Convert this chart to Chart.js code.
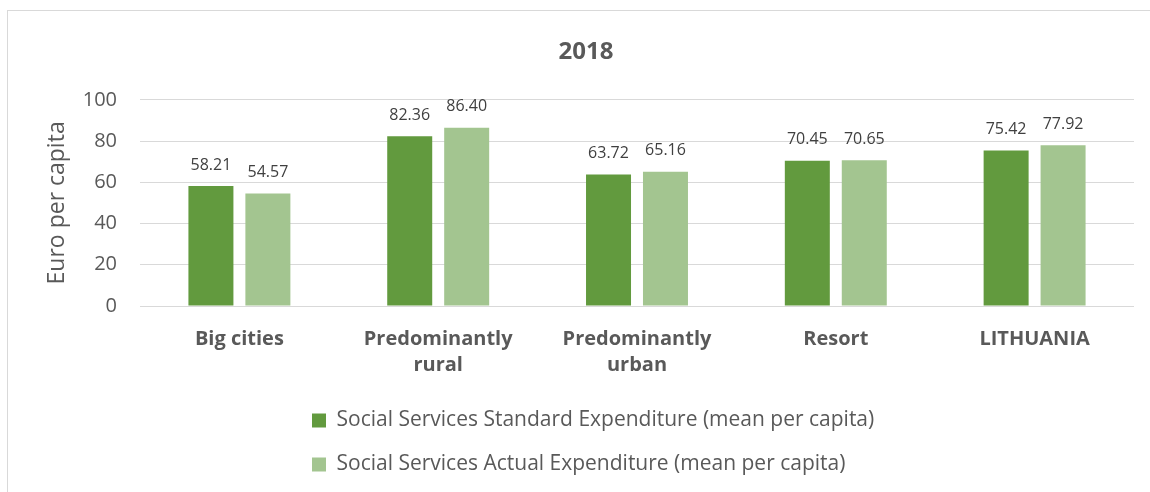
<!DOCTYPE html>
<html>
<head>
<meta charset="utf-8">
<script src="https://cdn.jsdelivr.net/npm/chart.js@4"></script>
<style>
  html, body { margin: 0; padding: 0; background: #fff; overflow: hidden; }
  #wrap {
    position: absolute;
    left: 7px;
    top: 10px;
    width: 1150px;
    height: 500px;
    border: 1px solid #d9d9d9;
  }
</style>
</head>
<body>
<div id="wrap"><canvas id="expChart"></canvas></div>
<script>
// 数据
const categories = ['Big cities', ['Predominantly', 'rural'], ['Predominantly', 'urban'], 'Resort', 'LITHUANIA'];
const standardExp = [58.21, 82.36, 63.72, 70.45, 75.42];
const actualExp = [54.57, 86.40, 65.16, 70.65, 77.92];
const yTicks = [0, 20, 40, 60, 80, 100];

const textColor = '#595959';

// 柱顶数值标签
const barValueLabels = {
    id: 'barValueLabels',
    afterDatasetsDraw(chart) {
        const ctx = chart.ctx;
        ctx.save();
        ctx.font = '16px "Open Sans"';
        ctx.fillStyle = '#404040';
        ctx.textAlign = 'center';
        ctx.textBaseline = 'middle';
        chart.data.datasets.forEach((ds, i) => {
            chart.getDatasetMeta(i).data.forEach((bar, j) => {
                ctx.fillText(ds.data[j].toFixed(2), bar.x, bar.y - 21);
            });
        });
        ctx.restore();
    }
};

// 图例两行左对齐，整体右移
const legendShift = {
    id: 'legendShift',
    afterLayout(chart) {
        if (chart.legend) chart.legend.left = 281;
    }
};

const ctx = document.getElementById('expChart').getContext('2d');
const chart = new Chart(ctx, {
    type: 'bar',
    data: {
        labels: categories,
        datasets: [{
            label: 'Social Services Standard Expenditure (mean per capita)',
            data: standardExp,
            backgroundColor: '#629a3e'
        }, {
            label: 'Social Services Actual Expenditure (mean per capita)',
            data: actualExp,
            backgroundColor: '#a3c590'
        }]
    },
    options: {
        responsive: true,
        maintainAspectRatio: false,
        animation: false,
        categoryPercentage: 0.573,
        barPercentage: 0.79,
        layout: { padding: { left: 30, right: 24, top: 0, bottom: 26 } },
        plugins: {
            title: {
                display: true,
                text: '2018',
                color: textColor,
                font: { family: 'Open Sans', size: 24, weight: 'bold', lineHeight: 1.2 },
                padding: { top: 27, bottom: 33 }
            },
            legend: {
                position: 'bottom',
                align: 'start',
                labels: {
                    color: textColor,
                    font: { family: 'Open Sans', size: 21 },
                    boxWidth: 14,
                    boxHeight: 14,
                    padding: 23
                }
            },
            tooltip: { enabled: false }
        },
        scales: {
            y: {
                min: 0,
                max: 100,
                afterBuildTicks: s => { s.ticks = yTicks.map(v => ({ value: v })); },
                afterFit: s => { s.width = 102; },
                grid: { color: '#d9d9d9', drawTicks: false },
                border: { display: false },
                ticks: {
                    color: textColor,
                    font: { family: 'Open Sans', size: 20 },
                    padding: 23
                },
                title: {
                    display: true,
                    text: 'Euro per capita',
                    color: textColor,
                    font: { family: 'Open Sans', size: 23 },
                    padding: { top: 6, bottom: 0 }
                }
            },
            x: {
                afterFit: s => { s.height = 81; },
                grid: { display: false, drawTicks: false },
                border: { display: false },
                ticks: {
                    color: textColor,
                    font: { family: 'Open Sans', size: 20, weight: 'bold', lineHeight: 1.32 },
                    padding: 20,
                    maxRotation: 0
                }
            }
        }
    },
    plugins: [barValueLabels, legendShift]
});
</script>
</body>
</html>
